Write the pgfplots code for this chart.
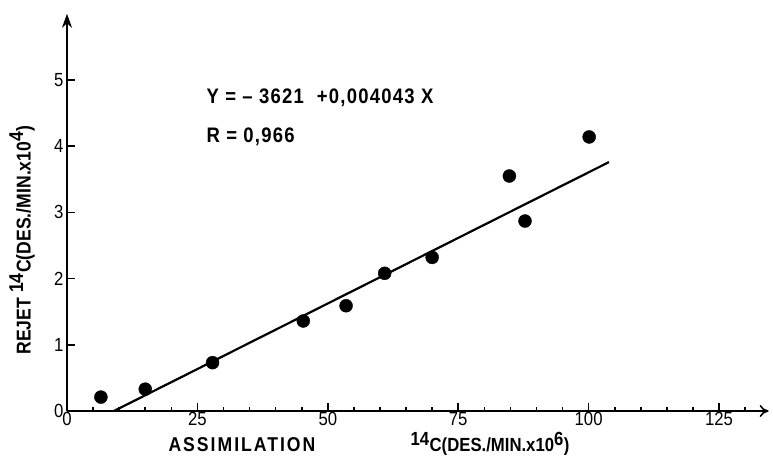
\documentclass[border=0pt]{standalone}
\usepackage{fontspec}
\setmainfont{Liberation Sans}[FakeStretch=0.88]
\usepackage{pgfplots}
\pgfplotsset{compat=1.18}
\usetikzlibrary{arrows.meta}

\begin{document}
\begin{tikzpicture}
\begin{axis}[
    at={(0,0)}, anchor=origin,
    scale only axis,
    width=701.6pt, height=397.2pt,
    xmin=0, xmax=134.5, ymin=0, ymax=6.0,
    axis lines=left,
    x axis line style={line width=2.2pt, -{To[length=9pt,width=12pt,line width=1.6pt]}},
    y axis line style={line width=2.2pt, -{Stealth[length=14pt,width=10pt]}},
    xtick={0,25,50,75,100,125},
    minor xtick={5,10,...,130},
    ytick={0,1,2,3,4,5},
    tick align=inside,
    major tick length=8pt, minor tick length=4pt,
    every tick/.style={line width=1.6pt, black},
    /pgf/number format/assume math mode=true,
    tick label style={font=\fontsize{19}{21}\selectfont},
    xticklabel style={yshift=2pt},
    clip=false,
]
\addplot[only marks, mark=*, mark size=6.5pt, black] coordinates {
    (6.5,0.21) (15.0,0.33) (27.9,0.73) (45.3,1.36) (53.5,1.59)
    (60.9,2.08) (70.0,2.32) (84.8,3.55) (87.8,2.87) (100.1,4.14)
};
\addplot[black, line width=2.2pt] coordinates {(9.0,0) (103.9,3.76)};
\end{axis}
\node[anchor=west, font=\bfseries\fontsize{21}{23}\selectfont\addfontfeature{LetterSpace=6}] at (136pt,313pt) {Y = -- 3621 \ +0,004043 X};
\node[anchor=west, font=\bfseries\fontsize{21}{23}\selectfont\addfontfeature{LetterSpace=6}] at (136pt,274pt) {R = 0,966};
\node[anchor=west, font=\bfseries\fontsize{20}{22}\selectfont\addfontfeature{LetterSpace=10}] at (98pt,-34pt) {ASSIMILATION};
\node[anchor=west, font=\bfseries\fontsize{19}{21}\selectfont] at (340pt,-33pt) {$^{\textbf{14}}$C(DES./MIN.x10$^{\textbf{6}}$)};
\node[rotate=90, font=\bfseries\fontsize{20}{22}\selectfont] at (-45pt,171pt) {REJET $^{\textbf{14}}$C(DES./MIN.x10$^{\textbf{4}}$)};
\pgfresetboundingbox
\path (-67pt,-47pt) rectangle (706pt,411pt);
\end{tikzpicture}
\end{document}
